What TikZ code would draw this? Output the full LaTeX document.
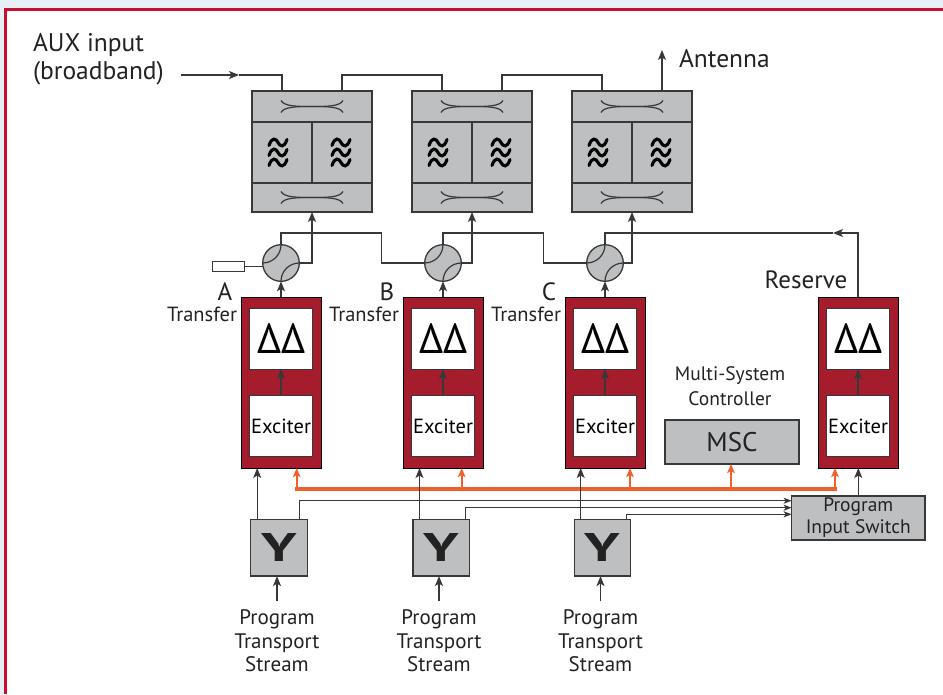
\documentclass[tikz,border=0pt]{standalone}
\usepackage{fontspec}
\setmainfont{PT Sans}
\usetikzlibrary{arrows.meta,calc}
\definecolor{grayfill}{HTML}{BEBFC1}
\definecolor{stroke}{HTML}{383838}
\definecolor{txred}{HTML}{A51D2D}
\definecolor{orng}{HTML}{F0602A}
\definecolor{framered}{HTML}{C8102E}
\definecolor{bgblue}{HTML}{E6EFF5}
\definecolor{txtc}{HTML}{222222}
\newcommand\myfs[2]{\fontsize{#1}{#2}\selectfont}
\begin{document}
\begin{tikzpicture}[x=1pt,y=-1pt,
  gbox/.style={draw=stroke, fill=grayfill, line width=1.3, inner sep=0, outer sep=0, text=txtc},
  wbox/.style={draw=stroke, fill=white, line width=1, inner sep=0, outer sep=0, text=black},
  txbox/.style={draw=black, fill=txred, line width=0.8, minimum width=80, minimum height=171, inner sep=0, outer sep=0},
  wire/.style={draw=stroke, line width=1.2},
  arr/.style={wire, -{Stealth[length=10pt,width=8pt,inset=2.5pt]}},
  sarr/.style={wire, -{Stealth[length=8pt,width=6pt,inset=2pt]}},
  oline/.style={draw=orng, line width=3.3, line cap=rect},
  oarr/.style={draw=orng, line width=2.4, -{Stealth[length=9pt,width=7.5pt,inset=2pt]}},
  lbl/.style={inner sep=0, outer sep=0, text=txtc},
  coup/.style={draw=stroke, line width=1.2},
  filt/.style={draw=black, line width=3.1, line cap=round}]
\useasboundingbox (0,0) rectangle (943,694);
% background and frame
\fill[bgblue] (0,0) rectangle (943,694);
\fill[white] (5.2,9.6) rectangle (943,694);
\draw[framered, line width=2.6] (5.2,694) -- (5.2,9.6) -- (943,9.6);

% combiners
\foreach \i/\xx in {1/252,2/412,3/572}{
  \node[gbox, anchor=north west, minimum width=120, minimum height=31] (ct\i) at (\xx,91) {};
  \node[gbox, anchor=north west, minimum width=60, minimum height=61] (cl\i) at (\xx,122) {};
  \node[gbox, anchor=north west, minimum width=60, minimum height=61] (cr\i) at (\xx+60,122) {};
  \node[gbox, anchor=north west, minimum width=120, minimum height=29] (cb\i) at (\xx,183) {};
  \foreach \cc in {ct\i,cb\i}{
    \draw[coup] ($(\cc.center)+(-31,-6)$) .. controls +(3,6) and +(-14,0) .. (\cc.center) .. controls +(14,0) and +(-3,-6) .. ($(\cc.center)+(31,6)$);
    \draw[coup] ($(\cc.center)+(-31,6)$) .. controls +(3,-6) and +(-14,0) .. (\cc.center) .. controls +(14,0) and +(-3,6) .. ($(\cc.center)+(31,-6)$);
  }
  \foreach \cc/\dx in {cl\i/-4,cr\i/-1}{
    \begin{scope}[shift={($(\cc.center)+(\dx,0)$)}]
      \foreach \dy in {-10,0,10}{
        \draw[filt] (-9,\dy+3) .. controls (-6,\dy-6) and (-2,\dy-4) .. (0,\dy) .. controls (2,\dy+4) and (6,\dy+6) .. (9,\dy-3);
      }
    \end{scope}
  }
}

% transmitters
\foreach \nm/\xx in {A/281,B/443,C/605,R/858}{
  \node[txbox, anchor=north] (tx\nm) at (\xx,297) {};
  \node[wbox, minimum width=62.4, minimum height=60.7, font=\myfs{42}{42}] (pa\nm) at (\xx,338.7) {ΔΔ};
  \node[wbox, minimum width=62.4, minimum height=60.7, font=\myfs{20.5}{20.5}] (ex\nm) at (\xx,426.3) {Exciter};
  \draw[arr] (ex\nm.north) -- (pa\nm.south);
}
\foreach \nm in {A,B,C}{
  \node[lbl, anchor=east, font=\myfs{20.5}{20.5}] (tr\nm) at ($(tx\nm.north west)+(-4,17.5)$) {Transfer};
  \node[lbl, font=\myfs{25}{25}] (l\nm) at ($(tx\nm.north west)+(-16,-5)$) {\nm};
}
\node[lbl, font=\myfs{25}{25}] (rsvlbl) at (806,280) {Reserve};

% circulators
\foreach \nm/\xx/\k in {A/281/1,B/443/2,C/605/3}{
  \node[gbox, circle, minimum size=36.6] (circ\nm) at (\xx,263) {};
  \draw[coup] (circ\nm.north) .. controls +(0,10.1) and +(10.1,0) .. (circ\nm.west);
  \draw[coup] (circ\nm.south) .. controls +(0,-10.1) and +(-10.1,0) .. (circ\nm.east);
  \draw[arr] (tx\nm.north) -- (circ\nm.south);
  \draw[arr] (circ\nm.east) -| (cb\k.south);
}
\node[wbox, minimum width=32, minimum height=10] (load) at (228,266.5) {};
\draw[wire] (load.east) -- (load.east -| circA.west);
\coordinate (ab1) at (381.7,233);
\coordinate (bc1) at (543.3,233);
\coordinate (rtip) at (833,233);
\draw[wire] (circA.north) |- (ab1) |- (circB.west);
\draw[wire] (circB.north) |- (bc1) |- (circC.west);
\draw[arr] (txR.north) |- (rtip);
\draw[wire] (rtip) -| (circC.north);

% top connections
\coordinate (auxin) at (181,75);
\coordinate (auxtip) at (239,75);
\draw[arr] (auxin) -- (auxtip);
\draw[wire] (auxtip) -| ($(ct1.north west)+(30,0)$);
\draw[wire] ($(ct1.north west)+(90,0)$) -- ++(0,-16) -| ($(ct2.north west)+(30,0)$);
\draw[wire] ($(ct2.north west)+(90,0)$) -- ++(0,-16) -| ($(ct3.north west)+(30,0)$);
\coordinate (ant) at (662,50);
\draw[arr] ($(ct3.north west)+(90,0)$) -- (ant);
\node[lbl, anchor=west, font=\myfs{25.5}{25.5}] (antlbl) at (679,58.5) {Antenna};
\node[lbl, anchor=north west, align=left, font=\myfs{25.5}{28}] (auxlbl) at (33,33) {AUX input\\(broadband)};

% MSC
\node[lbl, align=center, font=\myfs{19.5}{25}] (msclbl) at (730,386) {Multi-System\\Controller};
\node[gbox, minimum width=134, minimum height=44, font=\myfs{27}{27}] (msc) at (732,442) {MSC};

% program input switch
\node[gbox, minimum width=133.3, minimum height=44, align=center, font=\myfs{19.5}{22}] (pis) at (858.3,518) {Program\\Input Switch};
\draw[arr] (pis.north) -- (pis.north |- txR.south);

% orange control bus
\coordinate (o1) at (296.7,489);
\coordinate (o2) at (461.7,489);
\coordinate (o3) at (630,489);
\coordinate (o4) at (731,489);
\coordinate (o5) at (835,489);
\draw[oline] (o1) -- (o5);
\draw[oarr] (o1) -- (o1 |- txA.south);
\draw[oarr] (o2) -- (o2 |- txB.south);
\draw[oarr] (o3) -- (o3 |- txC.south);
\draw[oarr] (o4) -- (o4 |- msc.south);
\draw[oarr] (o5) -- (o5 |- txR.south);

% splitters
\foreach \nm/\xx/\src in {A/279/277,B/441.3/439,C/602.5/600.5}{
  \node[gbox, minimum width=56.6, minimum height=56.7] (y\nm) at (\xx,547.7) {\scalebox{1.5}[1]{\myfs{40}{40}\bfseries Y}};
  \coordinate (yo\nm) at ($(y\nm.north west)+(6.5,0)$);
  \draw[arr] (yo\nm) -- (yo\nm |- tx\nm.south);
  \node[lbl, anchor=north, align=center, font=\myfs{21}{23.5}] (pts\nm) at (\src,610) {Program\\Transport\\Stream};
  \coordinate (src\nm) at (\src,601);
  \draw[arr] (src\nm) -- (src\nm |- y\nm.south);
}
\coordinate (pA) at ($(yA.north east)+(-8,0)$);
\coordinate (pB) at ($(yB.north east)+(-4.3,0)$);
\coordinate (pC) at ($(yC.north east)+(-4,0)$);
\draw[sarr] (pA) |- ($(pis.north west)+(0,4.7)$);
\draw[sarr] (pB) |- ($(pis.north west)+(0,11.7)$);
\draw[sarr] (pC) |- ($(pis.north west)+(0,18.3)$);
\end{tikzpicture}
\end{document}
